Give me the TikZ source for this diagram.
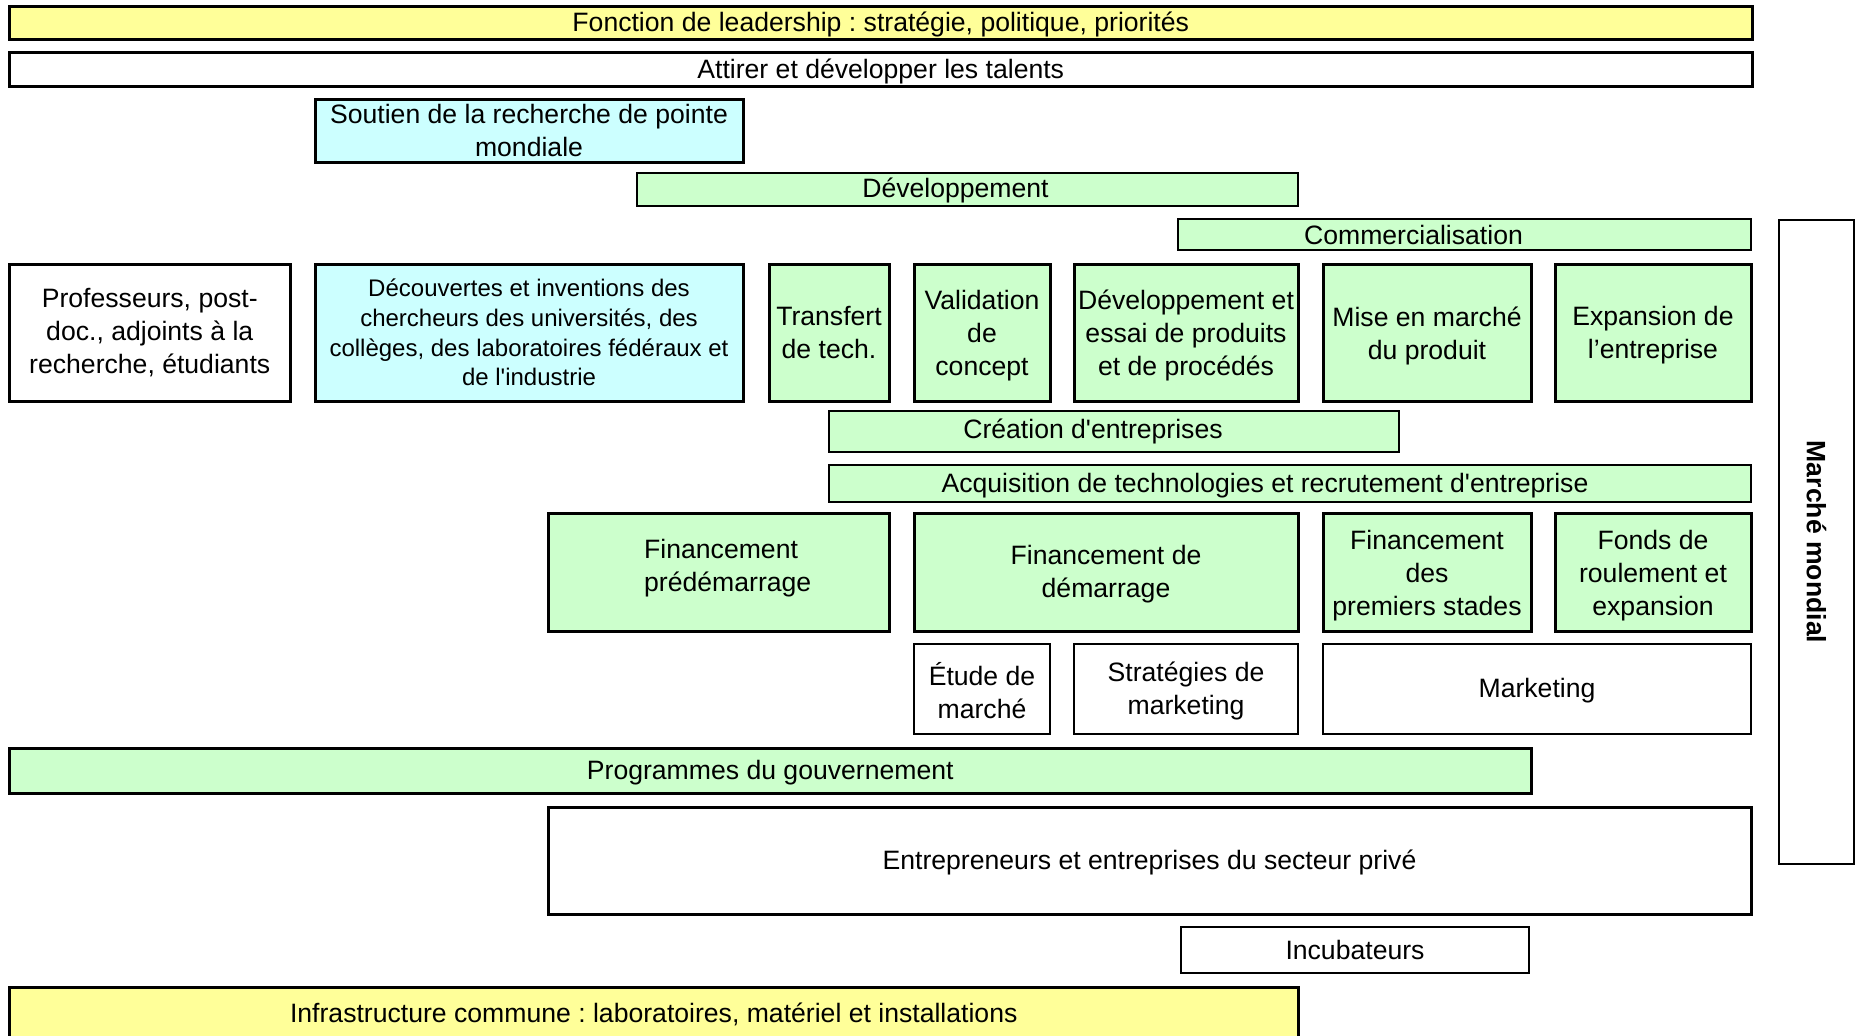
\documentclass[tikz,border=0pt]{standalone}
\usepackage{fontspec}
\setmainfont{Liberation Sans}
\frenchspacing
\definecolor{cyel}{HTML}{FFFF99}
\definecolor{cgrn}{HTML}{CCFFCC}
\definecolor{ccyn}{HTML}{CCFFFF}
\tikzset{
  bx/.style={draw=black, line width=3pt, inner sep=0pt},
  thin/.style={line width=1.8pt},
  mid/.style={line width=2.6pt},
  yel/.style={bx, fill=cyel},
  grn/.style={bx, fill=cgrn},
  cyn/.style={bx, fill=ccyn},
  wht/.style={bx, fill=white},
  sz/.style 2 args={minimum width=#1pt, minimum height=#2pt},
  txt/.style={inner sep=0pt, align=center, font=\fontsize{26.6}{33}\selectfont}
}
\begin{document}
\begin{tikzpicture}[x=1pt,y=-1pt]
\clip (0,0) rectangle (1856,1036);
\fill[white] (0,0) rectangle (1856,1036);
% top bars
\node[yel, sz={1742.5}{33}] (lead) at (880.75,22.5) {};
\node[txt] (leadt) at ([shift={(0,2.4)}]lead.center) {Fonction de leadership : stratégie, politique, priorités};
\node[wht, sz={1742.5}{34}] (attirer) at (880.75,69) {};
\node[txt] (attirert) at ([shift={(0,2.4)}]attirer.center) {Attirer et développer les talents};
\node[cyn, sz={428}{63}] (soutien) at (529,130.5) {};
\node[txt] (soutient) at (soutien.center) {Soutien de la recherche de pointe\\mondiale};
\node[grn, thin, sz={661}{33}] (dev) at (967.5,189.5) {};
\node[txt] (devt) at ([shift={(-12,1)}]dev.center) {Développement};
\node[grn, thin, sz={573}{31}] (comm) at (1464.5,234.5) {};
\node[txt] (commt) at ([shift={(-51,0)}]comm.center) {Commercialisation};
\node[wht, thin, sz={75}{644}] (marche) at (1816.5,542) {};
\node[rotate=-90, inner sep=0pt, font=\fontsize{26.6}{33}\selectfont\bfseries] (marchet) at (marche.center) {Marché mondial};
% row 1
\node[wht, sz={280.5}{137}] (prof) at (149.75,332.5) {};
\node[txt] (proft) at (prof.center) {Professeurs, post-\\doc., adjoints à la\\recherche, étudiants};
\node[cyn, sz={428}{137}] (decouv) at (529,332.5) {};
\node[txt, font=\fontsize{24}{29.6}\selectfont] (decouvt) at (decouv.center) {Découvertes et inventions des\\chercheurs des universités, des\\collèges, des laboratoires fédéraux et\\de l\textquotesingle industrie};
\node[grn, sz={120}{137}] (transfert) at (829,332.5) {};
\node[txt] (transfertt) at (transfert.center) {Transfert\\de tech.};
\node[grn, sz={136}{137}] (valid) at (982,332.5) {};
\node[txt] (validt) at ([shift={(0,3)}]valid.center) {Validation\\de\\concept};
\node[grn, sz={224}{137}] (devessai) at (1186,332.5) {};
\node[txt] (devessait) at ([shift={(0,3)}]devessai.center) {Développement et\\essai de produits\\et de procédés};
\node[grn, sz={208}{137}] (mise) at (1427,332.5) {};
\node[txt] (miset) at ([shift={(0,3)}]mise.center) {Mise en marché\\du produit};
\node[grn, sz={196}{137}] (expan) at (1653,332.5) {};
\node[txt] (expant) at ([shift={(0,3)}]expan.center) {Expansion de\\l’entreprise};
% bars
\node[grn, thin, sz={570}{41}] (creation) at (1114,431.5) {};
\node[txt] (creationt) at ([shift={(-21,0)}]creation.center) {Création d\textquotesingle entreprises};
\node[grn, thin, sz={922}{37}] (acqui) at (1290,483.5) {};
\node[txt] (acquit) at ([shift={(-25,2.5)}]acqui.center) {Acquisition de technologies et recrutement d\textquotesingle entreprise};
% financing row
\node[grn, sz={341}{118}] (predem) at (718.5,572) {};
\node[txt, align=left, anchor=west] (predemt) at (644,568) {Financement\\prédémarrage};
\node[grn, sz={384}{118}] (demar) at (1106,572) {};
\node[txt] (demart) at ([shift={(0,2)}]demar.center) {Financement de\\démarrage};
\node[grn, sz={208}{118}] (premiers) at (1427,572) {};
\node[txt] (premierst) at ([shift={(0,3.5)}]premiers.center) {Financement\\des\\premiers stades};
\node[grn, sz={196}{118}] (fonds) at (1653,572) {};
\node[txt] (fondst) at ([shift={(0,3.5)}]fonds.center) {Fonds de\\roulement et\\expansion};
% marketing row
\node[wht, mid, sz={136}{90}] (etude) at (982,689) {};
\node[txt] (etudet) at ([shift={(0,1.5)}]etude.center) {Étude de\\marché};
\node[wht, mid, sz={224}{90}] (strat) at (1186,689) {};
\node[txt] (stratt) at ([shift={(0,1.5)}]strat.center) {Stratégies de\\marketing};
\node[wht, mid, sz={428}{90}] (mkt) at (1537,689) {};
\node[txt] (mktt) at ([shift={(0,1.5)}]mkt.center) {Marketing};
% bottom
\node[grn, sz={1521.5}{45}] (prog) at (770.25,770.5) {};
\node[txt] (progt) at ([shift={(0,2.4)}]prog.center) {Programmes du gouvernement};
\node[wht, sz={1203}{107}] (entre) at (1149.5,860.5) {};
\node[txt] (entret) at ([shift={(0,2.4)}]entre.center) {Entrepreneurs et entreprises du secteur privé};
\node[wht, thin, sz={348}{46}] (incub) at (1355,950) {};
\node[txt] (incubt) at (incub.center) {Incubateurs};
\node[yel, sz={1288.5}{53}] (infra) at (653.75,1013.5) {};
\node[txt] (infrat) at ([shift={(0,1)}]infra.center) {Infrastructure commune : laboratoires, matériel et installations};
\end{tikzpicture}
\end{document}
